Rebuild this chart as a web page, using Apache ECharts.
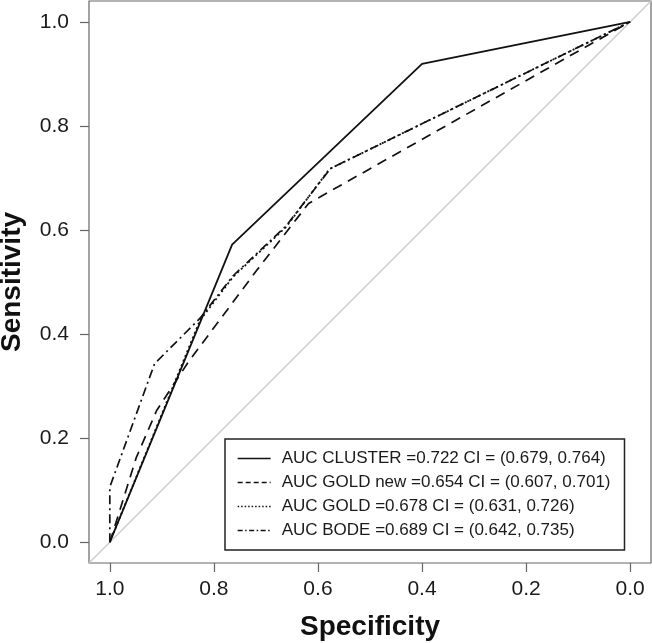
<!DOCTYPE html>
<html>
<head>
<meta charset="utf-8">
<script src="https://cdn.jsdelivr.net/npm/echarts@6/dist/echarts.min.js"></script>
<style>
html,body{margin:0;padding:0;background:#fff;}
#c{width:652px;height:643px;}
</style>
</head>
<body>
<div id="c"></div>
<script>
// Tick values
const tickValues = [0, 0.2, 0.4, 0.6, 0.8, 1.0];

// Series names
const seriesNames = [
  'AUC CLUSTER =0.722 CI = (0.679, 0.764)',
  'AUC GOLD new =0.654 CI = (0.607, 0.701)',
  'AUC GOLD =0.678 CI = (0.631, 0.726)',
  'AUC BODE =0.689 CI = (0.642, 0.735)'
];

// ROC curves (specificity, sensitivity)
const specCluster = [1.0, 0.765, 0.400, 0.0];
const sensCluster = [0.0, 0.572, 0.919, 1.0];

const specGoldNew = [1.0, 0.949, 0.910, 0.850, 0.718, 0.618, 0.0];
const sensGoldNew = [0.0, 0.163, 0.253, 0.345, 0.522, 0.651, 1.0];

const specGold = [1.0, 0.827, 0.763, 0.661, 0.578, 0.0];
const sensGold = [0.0, 0.426, 0.510, 0.606, 0.717, 1.0];

const specBode = [1.0, 1.0, 0.914, 0.827, 0.763, 0.661, 0.576, 0.0];
const sensBode = [0.0, 0.106, 0.343, 0.430, 0.512, 0.608, 0.718, 1.0];

// Reference diagonal (spans the padded box)
const specDiag = [1.04, -0.04];
const sensDiag = [-0.04, 1.04];

function pairs(xs, ys) { return xs.map((x, i) => [x, ys[i]]); }

const FONT = '"Liberation Sans", Arial, Helvetica, sans-serif';
const chart = echarts.init(document.getElementById('c'), null, {renderer: 'canvas'});

const curveStyles = [
  {type: 'solid', width: 1.8},
  {type: [10, 7], width: 1.7},
  {type: [2, 3], width: 1.8},
  {type: [9, 4, 2, 4], width: 1.7}
];
const legendDash = ['solid', [5, 3], [1.5, 2], [5, 2.5, 1.5, 2.5]];
const curveData = [
  pairs(specCluster, sensCluster),
  pairs(specGoldNew, sensGoldNew),
  pairs(specGold, sensGold),
  pairs(specBode, sensBode)
];

const series = [{
  type: 'line',
  data: pairs(specDiag, sensDiag),
  symbol: 'none',
  silent: true,
  lineStyle: {color: '#c8c8c8', width: 1.2},
  z: 1
}];
seriesNames.forEach((n, i) => {
  series.push({
    name: n,
    type: 'line',
    data: curveData[i],
    symbol: 'none',
    lineStyle: {color: '#111', width: curveStyles[i].width, type: curveStyles[i].type},
    itemStyle: {color: '#111'},
    z: 3
  });
});

chart.setOption({
  animation: false,
  backgroundColor: '#fff',
  grid: {
    left: 89, right: 1, top: 1, bottom: 80,
    containLabel: false,
    outerBoundsMode: 'none',
    show: true, borderColor: '#666', borderWidth: 1.2, backgroundColor: 'transparent'
  },
  legend: {
    data: seriesNames.map((n, i) => ({name: n, lineStyle: {type: legendDash[i], width: 1.3, color: '#111'}})),
    orient: 'vertical',
    left: 225, top: 439,
    borderColor: '#222', borderWidth: 1.5,
    padding: [11, 14, 11, 12],
    itemWidth: 33, itemHeight: 14, itemGap: 7,
    backgroundColor: '#fff',
    itemStyle: {opacity: 0, borderWidth: 0},
    textStyle: {fontFamily: FONT, fontSize: 17, color: '#1a1a1a', padding: [0, 0, 0, 6]}
  },
  xAxis: {
    type: 'value',
    inverse: true,
    min: -0.04, max: 1.04,
    name: 'Specificity',
    nameLocation: 'middle',
    nameGap: 50,
    nameTextStyle: {fontFamily: FONT, fontSize: 28, fontWeight: 'bold', color: '#111'},
    axisLine: {show: false, onZero: false},
    splitLine: {show: false},
    axisTick: {show: true, length: 9, customValues: tickValues, lineStyle: {color: '#666', width: 1.2}},
    axisLabel: {customValues: tickValues, margin: 16, fontFamily: FONT, fontSize: 21, color: '#1a1a1a',
      formatter: v => v.toFixed(1)}
  },
  yAxis: {
    type: 'value',
    min: -0.04, max: 1.04,
    name: 'Sensitivity',
    nameLocation: 'middle',
    nameGap: 63,
    nameTextStyle: {fontFamily: FONT, fontSize: 28, fontWeight: 'bold', color: '#111'},
    axisLine: {show: false, onZero: false},
    splitLine: {show: false},
    axisTick: {show: true, length: 9, customValues: tickValues, lineStyle: {color: '#666', width: 1.2}},
    axisLabel: {customValues: tickValues, margin: 20, fontFamily: FONT, fontSize: 21, color: '#1a1a1a',
      formatter: v => v.toFixed(1)}
  },
  series: series
});
</script>
</body>
</html>
